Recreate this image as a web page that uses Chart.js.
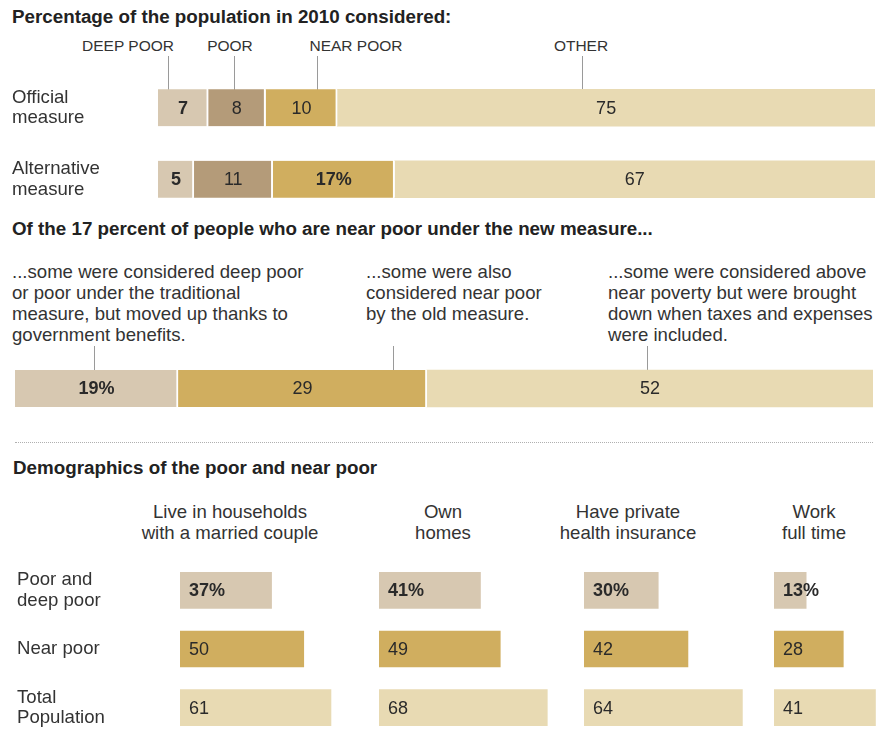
<!DOCTYPE html>
<html>
<head>
<meta charset="utf-8">
<script src="https://cdn.jsdelivr.net/npm/chart.js@4.4.1/dist/chart.umd.min.js"></script>
<style>
  body { margin: 0; width: 877px; height: 749px; overflow: hidden; background: #fff; position: relative;
         font-family: "Liberation Sans", Arial, Helvetica, sans-serif; color: #333; }
  .t { position: absolute; white-space: nowrap; font-size: 18.6px; line-height: 21px; }
  .head { font-weight: bold; font-size: 18.8px; color: #222; }
  .cap { font-size: 15.5px; }
  .ctr { transform: translateX(-50%); text-align: center; }
  .lead { position: absolute; width: 1px; background: #9a9a9a; }
  canvas { position: absolute; }
</style>
</head>
<body>

<div class="t head" style="left:12px; top:6px;">Percentage of the population in 2010 considered:</div>
<div class="t cap ctr" style="left:128px; top:35px;">DEEP POOR</div>
<div class="t cap ctr" style="left:230px; top:35px;">POOR</div>
<div class="t cap ctr" style="left:356px; top:35px;">NEAR POOR</div>
<div class="t cap ctr" style="left:581px; top:35px;">OTHER</div>
<div class="lead" style="left:168px; top:56px; height:34px;"></div>
<div class="lead" style="left:234px; top:56px; height:34px;"></div>
<div class="lead" style="left:317px; top:56px; height:34px;"></div>
<div class="lead" style="left:582px; top:56px; height:34px;"></div>
<canvas id="measureChart" width="877" height="143" style="left:0; top:72px;"></canvas>

<div class="t head" style="left:12px; top:218px;">Of the 17 percent of people who are near poor under the new measure...</div>
<div class="t" style="left:12px; top:261px;">...some were considered deep poor<br>or poor under the traditional<br>measure, but moved up thanks to<br>government benefits.</div>
<div class="t" style="left:366px; top:261px;">...some were also<br>considered near poor<br>by the old measure.</div>
<div class="t" style="left:608px; top:261px;">...some were considered above<br>near poverty but were brought<br>down when taxes and expenses<br>were included.</div>
<div class="lead" style="left:94px; top:346px; height:24px;"></div>
<div class="lead" style="left:393px; top:346px; height:24px;"></div>
<div class="lead" style="left:647px; top:346px; height:24px;"></div>
<canvas id="shiftChart" width="877" height="39" style="left:0; top:369px;"></canvas>

<div style="position:absolute; left:15px; top:442px; width:858px; border-top:1px dotted #b0b0b0;"></div>

<div class="t head" style="left:13px; top:457px;">Demographics of the poor and near poor</div>
<div id="colHeads"></div>
<canvas id="demo0" width="378" height="176" style="left:0; top:561px;"></canvas>
<canvas id="demo1" width="198" height="176" style="left:379px; top:561px;"></canvas>
<canvas id="demo2" width="198" height="176" style="left:584px; top:561px;"></canvas>
<canvas id="demo3" width="198" height="176" style="left:774px; top:561px;"></canvas>

<script>
// population shares, 2010
const measures = [["Official", "measure"], ["Alternative", "measure"]];
const groups = ["DEEP POOR", "POOR", "NEAR POOR", "OTHER"];
const deepPoor = [7, 5];
const poor = [8, 11];
const nearPoor = [10, 17];
const other = [75, 67];

// where the new near poor came from
const shiftParts = ["deep poor or poor before", "near poor before", "above near poverty before"];
const shiftValues = [19, 29, 52];

// demographics
const demoRows = [["Poor and", "deep poor"], "Near poor", ["Total", "Population"]];
const demoCols = [["Live in households", "with a married couple"], ["Own", "homes"], ["Have private", "health insurance"], ["Work", "full time"]];
const marriedCouple = [37, 50, 61];
const ownHomes = [41, 49, 68];
const privateInsurance = [30, 42, 64];
const fullTime = [13, 28, 41];

const C = { deep: "#d7c8b1", poor: "#b49b79", near: "#d0ae5f", other: "#e8dab3" };
const FONT = "'Liberation Sans', Arial, Helvetica, sans-serif";
Chart.defaults.font.family = FONT;

// prints each bar's value on the bar; style(di, i) -> {bold, pct}
function valueLabels(style, align) {
  return {
    id: "valueLabels",
    afterDatasetsDraw(chart) {
      const ctx = chart.ctx;
      chart.data.datasets.forEach((ds, di) => {
        chart.getDatasetMeta(di).data.forEach((bar, i) => {
          const s = style(di, i);
          const text = ds.data[i] + (s.pct ? "%" : "");
          ctx.save();
          ctx.font = (s.bold ? "bold " : "") + "18px " + FONT;
          ctx.fillStyle = "#2a2a2a";
          ctx.textBaseline = "middle";
          if (align === "left") {
            ctx.textAlign = "left";
            ctx.fillText(text, Math.min(bar.x, bar.base) + 9, bar.y + 1);
          } else {
            ctx.textAlign = "center";
            ctx.fillText(text, (bar.x + bar.base) / 2, bar.y + 1);
          }
          ctx.restore();
        });
      });
    }
  };
}

// row labels down the left; keep them from padding the plot area
function rowAxis(width) {
  return {
    grid: { display: false },
    border: { display: false },
    ticks: { crossAlign: "far", padding: 0, color: "#333", font: { size: 18.6, lineHeight: 1.1 } },
    afterFit(scale) {
      scale.width = width;
      scale.paddingTop = 0;
      scale.paddingBottom = 0;
    }
  };
}

const noChrome = { legend: { display: false }, tooltip: { enabled: false } };

// top: official vs alternative measure
new Chart(document.getElementById("measureChart"), {
  type: "bar",
  data: {
    labels: measures,
    datasets: [
      { label: groups[0], data: deepPoor, backgroundColor: C.deep },
      { label: groups[1], data: poor, backgroundColor: C.poor },
      { label: groups[2], data: nearPoor, backgroundColor: C.near },
      { label: groups[3], data: other, backgroundColor: C.other, borderWidth: 0 }
    ]
  },
  options: {
    indexAxis: "y",
    responsive: false,
    animation: false,
    layout: { padding: { left: 12, right: 2 } },
    datasets: { bar: { barThickness: 37, borderColor: "#fff", borderWidth: { right: 2 }, borderSkipped: false } },
    plugins: noChrome,
    scales: {
      x: { stacked: true, min: 0, max: 100, display: false },
      y: Object.assign({ stacked: true }, rowAxis(146))
    }
  },
  plugins: [valueLabels((di, i) => ({ bold: di === 0 || (di === 2 && i === 1), pct: di === 2 && i === 1 }), "center")]
});

// middle: the 17 percent split
new Chart(document.getElementById("shiftChart"), {
  type: "bar",
  data: {
    labels: ["Near poor"],
    datasets: shiftValues.map((v, k) => ({
      label: shiftParts[k],
      data: [v],
      backgroundColor: [C.deep, C.near, C.other][k],
      borderWidth: k === shiftValues.length - 1 ? 0 : { right: 2 }
    }))
  },
  options: {
    indexAxis: "y",
    responsive: false,
    animation: false,
    layout: { padding: { left: 15, right: 4 } },
    datasets: { bar: { barThickness: 37, borderColor: "#fff", borderSkipped: false } },
    plugins: noChrome,
    scales: {
      x: { stacked: true, min: 0, max: 100, display: false },
      y: { stacked: true, display: false }
    }
  },
  plugins: [valueLabels((di) => ({ bold: di === 0, pct: di === 0 }), "center")]
});

// bottom: one small bar chart per characteristic
const heads = document.getElementById("colHeads");
const headX = [230, 443, 628, 814];
demoCols.forEach((lines, k) => {
  const d = document.createElement("div");
  d.className = "t ctr";
  d.style.left = headX[k] + "px";
  d.style.top = "501px";
  d.innerHTML = lines.join("<br>");
  heads.appendChild(d);
});

[marriedCouple, ownHomes, privateInsurance, fullTime].forEach((vals, k) => {
  const first = k === 0;
  new Chart(document.getElementById("demo" + k), {
    type: "bar",
    data: {
      labels: demoRows,
      datasets: [{ label: demoCols[k].join(" "), data: vals, backgroundColor: [C.deep, C.near, C.other] }]
    },
    options: {
      indexAxis: "y",
      responsive: false,
      animation: false,
      layout: { padding: { left: first ? 17 : 0 } },
      datasets: { bar: { barThickness: 36 } },
      plugins: noChrome,
      scales: {
        x: { min: 0, max: 80, display: false },
        y: first ? rowAxis(163) : { display: false }
      }
    },
    plugins: [valueLabels((di, i) => ({ bold: i === 0, pct: i === 0 }), "left")]
  });
});
</script>
</body>
</html>
